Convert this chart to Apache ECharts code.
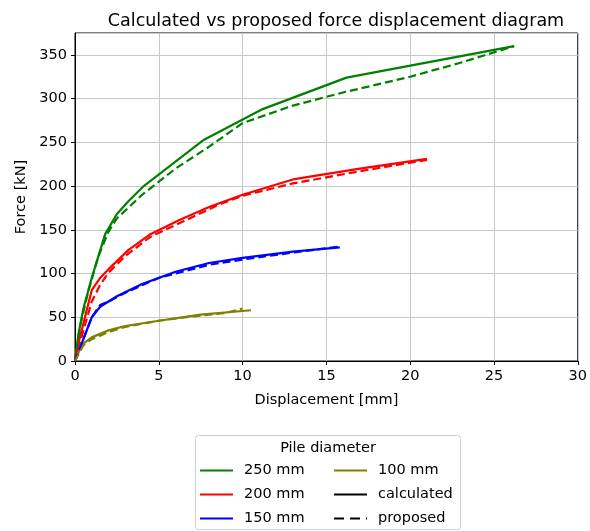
<!DOCTYPE html>
<html>
<head>
<meta charset="utf-8">
<script src="https://cdn.jsdelivr.net/npm/echarts@6/dist/echarts.min.js"></script>
<style>
  html, body { margin: 0; padding: 0; background: #fff; }
  #chart { width: 590px; height: 531px; }
</style>
</head>
<body>
<div id="chart"></div>
<script>
// displacement [mm], force [kN]
var calc250 = [[0,0],[0.2,30],[0.5,60],[1,95],[1.8,145],[2.5,168],[3.2,183],[4.1,200],[7.7,253],[11.2,288],[16.2,324],[26.2,360]];
var prop250 = [[0,0],[0.3,40],[0.8,80],[1.4,120],[2,148],[2.5,163],[4,190],[6,220],[8,245],[10,272],[13,292],[16,307],[20,325],[23,341],[26.2,360]];
var calc200 = [[0,0],[0.2,20],[0.5,43],[1,81],[1.5,95],[2,105],[3.2,127],[4.5,145],[6.2,161],[8,176],[10,190],[13.1,208],[17,220],[21,231]];
var prop200 = [[0,0],[0.5,35],[1,68],[1.5,87],[2,101],[3,120],[4.5,142],[6.5,160],[8.5,178],[10,189],[13,203],[17,217],[21,230]];
var calc150 = [[0,0],[0.3,15],[0.6,30],[1,50],[1.5,62],[2.5,74],[4,88],[6,102],[8,112],[10,118],[13,125],[15.8,130]];
var prop150 = [[0,0],[0.5,25],[1,50],[1.5,64],[2,68],[3,78],[5,95],[8,110],[10,116],[13,124],[15.8,131]];
var calc100 = [[0,0],[0.2,10],[0.5,20],[1,27],[2,35],[3,40],[5,46],[7.5,53],[10.5,58]];
var prop100 = [[0,0],[0.5,18],[1,25],[2,33],[3,39],[5,46],[7,51],[9,55],[10,60]];

var diameters = ['250 mm', '200 mm', '150 mm', '100 mm'];
var colors = ['#008000', '#ff0000', '#0000ff', '#808000'];
var calcData = [calc250, calc200, calc150, calc100];
var propData = [prop250, prop200, prop150, prop100];

var font = 'DejaVu Sans';
var chart = echarts.init(document.getElementById('chart'));

var series = [];
diameters.forEach(function (d, i) {
  series.push({
    name: d, type: 'line', data: calcData[i], symbol: 'none',
    lineStyle: { color: colors[i], width: 2.2 }, itemStyle: { color: colors[i] }
  });
});
diameters.forEach(function (d, i) {
  series.push({
    name: d, type: 'line', data: propData[i], symbol: 'none',
    lineStyle: { color: colors[i], width: 2.2, type: [8, 4] }, itemStyle: { color: colors[i] }
  });
});
// dummy series, only for the line style entries of the legend
series.push({ name: 'calculated', type: 'line', data: [], symbol: 'none',
  lineStyle: { color: '#000', width: 2.5 }, itemStyle: { color: '#000' } });
series.push({ name: 'proposed', type: 'line', data: [], symbol: 'none',
  lineStyle: { color: '#000', width: 2.5, type: [10, 6] }, itemStyle: { color: '#000' } });

var legendBase = {
  orient: 'vertical',
  padding: 0,
  itemWidth: 33,
  itemHeight: 14,
  itemGap: 9,
  selectedMode: false,
  itemStyle: { opacity: 0 },
  textStyle: { fontFamily: font, fontSize: 14.5, lineHeight: 14, color: '#000', padding: [0, 0, 0, 6] }
};

chart.setOption({
  animation: false,
  textStyle: { fontFamily: font },
  title: {
    text: 'Calculated vs proposed force displacement diagram',
    left: 331, top: 7, textAlign: 'center',
    textStyle: { fontFamily: font, fontSize: 17.5, fontWeight: 'normal', color: '#000' }
  },
  grid: { left: 75, right: 8, top: 33, bottom: 170, show: true, borderColor: '#000', borderWidth: 1 },
  xAxis: {
    type: 'value', min: 0, max: 30, interval: 5,
    name: 'Displacement [mm]', nameLocation: 'middle', nameGap: 32,
    nameTextStyle: { fontFamily: font, fontSize: 14.5, color: '#000' },
    axisLine: { show: true, lineStyle: { color: '#000' } },
    axisTick: { show: true, length: 4, lineStyle: { color: '#000' } },
    axisLabel: { fontFamily: font, fontSize: 14.5, color: '#000', margin: 8 },
    splitLine: { show: true, lineStyle: { color: '#c8c8c8', width: 1 } }
  },
  yAxis: {
    type: 'value', min: 0, max: 375, interval: 50,
    name: 'Force [kN]', nameLocation: 'middle', nameGap: 46, nameRotate: 90,
    nameTextStyle: { fontFamily: font, fontSize: 14.5, color: '#000' },
    axisLine: { show: true, lineStyle: { color: '#000' } },
    axisTick: { show: true, length: 4, lineStyle: { color: '#000' } },
    axisLabel: { fontFamily: font, fontSize: 14.5, color: '#000', margin: 8, showMaxLabel: false },
    splitLine: { show: true, lineStyle: { color: '#c8c8c8', width: 1 } }
  },
  legend: [
    Object.assign({}, legendBase, { left: 199, top: 463, data: ['250 mm', '200 mm', '150 mm'] }),
    Object.assign({}, legendBase, { left: 333, top: 463, data: ['100 mm', 'calculated', 'proposed'] })
  ],
  graphic: [
    { type: 'rect', shape: { x: 195.5, y: 435.5, width: 265, height: 94, r: 3 },
      style: { fill: 'none', stroke: '#d0d0d0', lineWidth: 1 } },
    { type: 'text', x: 328, y: 441,
      style: { text: 'Pile diameter', font: '14.5px "DejaVu Sans"', fill: '#000', align: 'center' } }
  ],
  series: series
});
</script>
</body>
</html>
